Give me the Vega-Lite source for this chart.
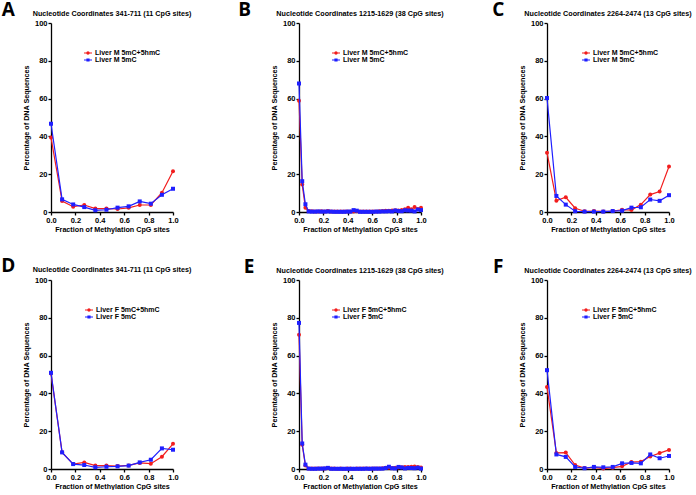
{
  "$schema": "https://vega.github.io/schema/vega-lite/v6.json",
  "padding": {"left": 1, "top": 0, "right": 0, "bottom": 0},
  "background": "white",
  "datasets": {
    "A": [
      {"x": 0, "Liver M 5mC+5hmC": 39.4, "Liver M 5mC": 46.7},
      {"x": 0.0909, "Liver M 5mC+5hmC": 5.8, "Liver M 5mC": 6.7},
      {"x": 0.1818, "Liver M 5mC+5hmC": 2.8, "Liver M 5mC": 4.0},
      {"x": 0.2727, "Liver M 5mC+5hmC": 3.7, "Liver M 5mC": 2.6},
      {"x": 0.3636, "Liver M 5mC+5hmC": 1.8, "Liver M 5mC": 0.9},
      {"x": 0.4545, "Liver M 5mC+5hmC": 1.8, "Liver M 5mC": 1.2},
      {"x": 0.5455, "Liver M 5mC+5hmC": 1.6, "Liver M 5mC": 2.3},
      {"x": 0.6364, "Liver M 5mC+5hmC": 2.2, "Liver M 5mC": 3.0},
      {"x": 0.7273, "Liver M 5mC+5hmC": 3.7, "Liver M 5mC": 5.6},
      {"x": 0.8182, "Liver M 5mC+5hmC": 3.7, "Liver M 5mC": 4.4},
      {"x": 0.9091, "Liver M 5mC+5hmC": 10.2, "Liver M 5mC": 9.1},
      {"x": 1, "Liver M 5mC+5hmC": 21.6, "Liver M 5mC": 12.3}
    ],
    "B": [
      {"x": 0, "Liver M 5mC+5hmC": 58.9, "Liver M 5mC": 68.0},
      {"x": 0.0263, "Liver M 5mC+5hmC": 14.5, "Liver M 5mC": 16.3},
      {"x": 0.0526, "Liver M 5mC+5hmC": 2.3, "Liver M 5mC": 4.1},
      {"x": 0.0789, "Liver M 5mC+5hmC": 0.5, "Liver M 5mC": 0.3},
      {"x": 0.1053, "Liver M 5mC+5hmC": 0.4, "Liver M 5mC": 0.2},
      {"x": 0.1316, "Liver M 5mC+5hmC": 0.3, "Liver M 5mC": 0.2},
      {"x": 0.1579, "Liver M 5mC+5hmC": 0.3, "Liver M 5mC": 0.3},
      {"x": 0.1842, "Liver M 5mC+5hmC": 0.4, "Liver M 5mC": 0.2},
      {"x": 0.2105, "Liver M 5mC+5hmC": 0.3, "Liver M 5mC": 0.2},
      {"x": 0.2368, "Liver M 5mC+5hmC": 0.5, "Liver M 5mC": 0.3},
      {"x": 0.2632, "Liver M 5mC+5hmC": 0.3, "Liver M 5mC": 0.2},
      {"x": 0.2895, "Liver M 5mC+5hmC": 0.2, "Liver M 5mC": 0.1},
      {"x": 0.3158, "Liver M 5mC+5hmC": 0.2, "Liver M 5mC": 0.1},
      {"x": 0.3421, "Liver M 5mC+5hmC": 0.2, "Liver M 5mC": 0.1},
      {"x": 0.3684, "Liver M 5mC+5hmC": 0.2, "Liver M 5mC": 0.1},
      {"x": 0.3947, "Liver M 5mC+5hmC": 0.2, "Liver M 5mC": 0.2},
      {"x": 0.4211, "Liver M 5mC+5hmC": 0.3, "Liver M 5mC": 0.2},
      {"x": 0.4474, "Liver M 5mC+5hmC": 0.2, "Liver M 5mC": 1.0},
      {"x": 0.4737, "Liver M 5mC+5hmC": 0.4, "Liver M 5mC": 0.7},
      {"x": 0.5, "Liver M 5mC+5hmC": 0.2, "Liver M 5mC": 0.1},
      {"x": 0.5263, "Liver M 5mC+5hmC": 0.2, "Liver M 5mC": 0.1},
      {"x": 0.5526, "Liver M 5mC+5hmC": 0.2, "Liver M 5mC": 0.1},
      {"x": 0.5789, "Liver M 5mC+5hmC": 0.2, "Liver M 5mC": 0.1},
      {"x": 0.6053, "Liver M 5mC+5hmC": 0.2, "Liver M 5mC": 0.1},
      {"x": 0.6316, "Liver M 5mC+5hmC": 0.3, "Liver M 5mC": 0.2},
      {"x": 0.6579, "Liver M 5mC+5hmC": 0.4, "Liver M 5mC": 0.2},
      {"x": 0.6842, "Liver M 5mC+5hmC": 0.5, "Liver M 5mC": 0.3},
      {"x": 0.7105, "Liver M 5mC+5hmC": 0.6, "Liver M 5mC": 0.3},
      {"x": 0.7368, "Liver M 5mC+5hmC": 0.6, "Liver M 5mC": 0.4},
      {"x": 0.7632, "Liver M 5mC+5hmC": 0.8, "Liver M 5mC": 0.3},
      {"x": 0.7895, "Liver M 5mC+5hmC": 0.9, "Liver M 5mC": 0.8},
      {"x": 0.8158, "Liver M 5mC+5hmC": 0.8, "Liver M 5mC": 0.5},
      {"x": 0.8421, "Liver M 5mC+5hmC": 1.0, "Liver M 5mC": 0.4},
      {"x": 0.8684, "Liver M 5mC+5hmC": 1.5, "Liver M 5mC": 0.9},
      {"x": 0.8947, "Liver M 5mC+5hmC": 2.3, "Liver M 5mC": 0.8},
      {"x": 0.9211, "Liver M 5mC+5hmC": 1.4, "Liver M 5mC": 0.7},
      {"x": 0.9474, "Liver M 5mC+5hmC": 2.7, "Liver M 5mC": 0.3},
      {"x": 0.9737, "Liver M 5mC+5hmC": 1.6, "Liver M 5mC": 1.3},
      {"x": 1, "Liver M 5mC+5hmC": 2.3, "Liver M 5mC": 1.0}
    ],
    "C": [
      {"x": 0, "Liver M 5mC+5hmC": 31.4, "Liver M 5mC": 60.3},
      {"x": 0.0769, "Liver M 5mC+5hmC": 6.0, "Liver M 5mC": 8.5},
      {"x": 0.1538, "Liver M 5mC+5hmC": 7.8, "Liver M 5mC": 3.9},
      {"x": 0.2308, "Liver M 5mC+5hmC": 2.0, "Liver M 5mC": 0.4},
      {"x": 0.3077, "Liver M 5mC+5hmC": 0.4, "Liver M 5mC": 0.2},
      {"x": 0.3846, "Liver M 5mC+5hmC": 0.5, "Liver M 5mC": 0.2},
      {"x": 0.4615, "Liver M 5mC+5hmC": 0.3, "Liver M 5mC": 0.2},
      {"x": 0.5385, "Liver M 5mC+5hmC": 0.5, "Liver M 5mC": 0.5},
      {"x": 0.6154, "Liver M 5mC+5hmC": 1.2, "Liver M 5mC": 0.7},
      {"x": 0.6923, "Liver M 5mC+5hmC": 1.0, "Liver M 5mC": 2.3},
      {"x": 0.7692, "Liver M 5mC+5hmC": 3.9, "Liver M 5mC": 2.5},
      {"x": 0.8462, "Liver M 5mC+5hmC": 9.2, "Liver M 5mC": 6.6},
      {"x": 0.9231, "Liver M 5mC+5hmC": 10.8, "Liver M 5mC": 5.9},
      {"x": 1, "Liver M 5mC+5hmC": 24.1, "Liver M 5mC": 8.9}
    ],
    "D": [
      {"x": 0, "Liver F 5mC+5hmC": 50.5, "Liver F 5mC": 50.9},
      {"x": 0.0909, "Liver F 5mC+5hmC": 8.8, "Liver F 5mC": 8.8},
      {"x": 0.1818, "Liver F 5mC+5hmC": 2.6, "Liver F 5mC": 2.6},
      {"x": 0.2727, "Liver F 5mC+5hmC": 3.5, "Liver F 5mC": 2.1},
      {"x": 0.3636, "Liver F 5mC+5hmC": 1.8, "Liver F 5mC": 0.9},
      {"x": 0.4545, "Liver F 5mC+5hmC": 1.8, "Liver F 5mC": 1.2},
      {"x": 0.5455, "Liver F 5mC+5hmC": 1.6, "Liver F 5mC": 1.4},
      {"x": 0.6364, "Liver F 5mC+5hmC": 1.9, "Liver F 5mC": 1.8},
      {"x": 0.7273, "Liver F 5mC+5hmC": 3.2, "Liver F 5mC": 3.5},
      {"x": 0.8182, "Liver F 5mC+5hmC": 2.8, "Liver F 5mC": 4.9},
      {"x": 0.9091, "Liver F 5mC+5hmC": 6.5, "Liver F 5mC": 10.9},
      {"x": 1, "Liver F 5mC+5hmC": 13.3, "Liver F 5mC": 10.2}
    ],
    "E": [
      {"x": 0, "Liver F 5mC+5hmC": 71.0, "Liver F 5mC": 77.3},
      {"x": 0.0263, "Liver F 5mC+5hmC": 12.8, "Liver F 5mC": 13.5},
      {"x": 0.0526, "Liver F 5mC+5hmC": 1.8, "Liver F 5mC": 2.3},
      {"x": 0.0789, "Liver F 5mC+5hmC": 0.3, "Liver F 5mC": 0.2},
      {"x": 0.1053, "Liver F 5mC+5hmC": 0.2, "Liver F 5mC": 0.1},
      {"x": 0.1316, "Liver F 5mC+5hmC": 0.2, "Liver F 5mC": 0.1},
      {"x": 0.1579, "Liver F 5mC+5hmC": 0.3, "Liver F 5mC": 0.2},
      {"x": 0.1842, "Liver F 5mC+5hmC": 0.2, "Liver F 5mC": 0.2},
      {"x": 0.2105, "Liver F 5mC+5hmC": 0.3, "Liver F 5mC": 0.3},
      {"x": 0.2368, "Liver F 5mC+5hmC": 0.5, "Liver F 5mC": 0.6},
      {"x": 0.2632, "Liver F 5mC+5hmC": 0.2, "Liver F 5mC": 0.1},
      {"x": 0.2895, "Liver F 5mC+5hmC": 0.2, "Liver F 5mC": 0.1},
      {"x": 0.3158, "Liver F 5mC+5hmC": 0.1, "Liver F 5mC": 0.1},
      {"x": 0.3421, "Liver F 5mC+5hmC": 0.2, "Liver F 5mC": 0.1},
      {"x": 0.3684, "Liver F 5mC+5hmC": 0.1, "Liver F 5mC": 0.1},
      {"x": 0.3947, "Liver F 5mC+5hmC": 0.2, "Liver F 5mC": 0.1},
      {"x": 0.4211, "Liver F 5mC+5hmC": 0.2, "Liver F 5mC": 0.1},
      {"x": 0.4474, "Liver F 5mC+5hmC": 0.1, "Liver F 5mC": 0.1},
      {"x": 0.4737, "Liver F 5mC+5hmC": 0.2, "Liver F 5mC": 0.1},
      {"x": 0.5, "Liver F 5mC+5hmC": 0.2, "Liver F 5mC": 0.1},
      {"x": 0.5263, "Liver F 5mC+5hmC": 0.2, "Liver F 5mC": 0.1},
      {"x": 0.5526, "Liver F 5mC+5hmC": 0.2, "Liver F 5mC": 0.2},
      {"x": 0.5789, "Liver F 5mC+5hmC": 0.2, "Liver F 5mC": 0.1},
      {"x": 0.6053, "Liver F 5mC+5hmC": 0.3, "Liver F 5mC": 0.2},
      {"x": 0.6316, "Liver F 5mC+5hmC": 0.3, "Liver F 5mC": 0.2},
      {"x": 0.6579, "Liver F 5mC+5hmC": 0.3, "Liver F 5mC": 0.2},
      {"x": 0.6842, "Liver F 5mC+5hmC": 0.4, "Liver F 5mC": 0.2},
      {"x": 0.7105, "Liver F 5mC+5hmC": 0.7, "Liver F 5mC": 0.5},
      {"x": 0.7368, "Liver F 5mC+5hmC": 0.6, "Liver F 5mC": 1.2},
      {"x": 0.7632, "Liver F 5mC+5hmC": 0.5, "Liver F 5mC": 0.4},
      {"x": 0.7895, "Liver F 5mC+5hmC": 0.6, "Liver F 5mC": 0.3},
      {"x": 0.8158, "Liver F 5mC+5hmC": 0.8, "Liver F 5mC": 1.1},
      {"x": 0.8421, "Liver F 5mC+5hmC": 0.9, "Liver F 5mC": 0.8},
      {"x": 0.8684, "Liver F 5mC+5hmC": 1.1, "Liver F 5mC": 0.3},
      {"x": 0.8947, "Liver F 5mC+5hmC": 1.0, "Liver F 5mC": 0.6},
      {"x": 0.9211, "Liver F 5mC+5hmC": 1.2, "Liver F 5mC": 0.5},
      {"x": 0.9474, "Liver F 5mC+5hmC": 1.3, "Liver F 5mC": 0.4},
      {"x": 0.9737, "Liver F 5mC+5hmC": 1.1, "Liver F 5mC": 0.7},
      {"x": 1, "Liver F 5mC+5hmC": 0.8, "Liver F 5mC": 0.2}
    ],
    "F": [
      {"x": 0, "Liver F 5mC+5hmC": 43.4, "Liver F 5mC": 52.3},
      {"x": 0.0769, "Liver F 5mC+5hmC": 8.5, "Liver F 5mC": 7.7},
      {"x": 0.1538, "Liver F 5mC+5hmC": 8.7, "Liver F 5mC": 6.4},
      {"x": 0.2308, "Liver F 5mC+5hmC": 2.1, "Liver F 5mC": 1.1},
      {"x": 0.3077, "Liver F 5mC+5hmC": 0.5, "Liver F 5mC": 0.4},
      {"x": 0.3846, "Liver F 5mC+5hmC": 0.9, "Liver F 5mC": 1.1},
      {"x": 0.4615, "Liver F 5mC+5hmC": 0.2, "Liver F 5mC": 0.9},
      {"x": 0.5385, "Liver F 5mC+5hmC": 0.7, "Liver F 5mC": 1.1},
      {"x": 0.6154, "Liver F 5mC+5hmC": 1.4, "Liver F 5mC": 3.0},
      {"x": 0.6923, "Liver F 5mC+5hmC": 3.7, "Liver F 5mC": 3.2},
      {"x": 0.7692, "Liver F 5mC+5hmC": 3.9, "Liver F 5mC": 3.0},
      {"x": 0.8462, "Liver F 5mC+5hmC": 6.6, "Liver F 5mC": 7.7},
      {"x": 0.9231, "Liver F 5mC+5hmC": 8.4, "Liver F 5mC": 5.7},
      {"x": 1, "Liver F 5mC+5hmC": 10.1, "Liver F 5mC": 6.9}
    ]
  },
  "columns": 3,
  "spacing": {"row": 68, "column": 126},
  "bounds": "flush",
  "resolve": {"scale": {"color": "independent", "shape": "independent"}, "legend": {"color": "independent", "shape": "independent"}},
  "concat": [
    {
      "width": 122, "height": 189,
      "title": {"text": "Nucleotide Coordinates 341-711 (11 CpG sites)"},
      "layer": [
        {"data": {"name": "A"}, "transform": [{"fold": ["Liver M 5mC+5hmC", "Liver M 5mC"], "as": ["s", "y"]}, {"filter": "datum.s === 'Liver M 5mC+5hmC'"}],
         "mark": {"type": "line", "strokeWidth": 1.2, "color": "#f21d1d"},
         "encoding": {
          "x": {"field": "x", "type": "quantitative", "scale": {"domain": [0, 1], "nice": false}, "title": "Fraction of Methylation CpG sites"},
          "y": {"field": "y", "type": "quantitative", "scale": {"domain": [0, 100], "nice": false}, "title": "Percentage of DNA Sequences"}}},
        {"data": {"name": "A"}, "transform": [{"fold": ["Liver M 5mC+5hmC", "Liver M 5mC"], "as": ["s", "y"]}, {"filter": "datum.s === 'Liver M 5mC+5hmC'"}],
         "mark": {"type": "point", "shape": "circle", "filled": true, "opacity": 1, "size": 16, "color": "#f21d1d"},
         "encoding": {"x": {"field": "x", "type": "quantitative"}, "y": {"field": "y", "type": "quantitative"}}},
        {"data": {"name": "A"}, "transform": [{"fold": ["Liver M 5mC+5hmC", "Liver M 5mC"], "as": ["s", "y"]}, {"filter": "datum.s === 'Liver M 5mC'"}],
         "mark": {"type": "line", "strokeWidth": 1.2, "color": "#1f1fff"},
         "encoding": {"x": {"field": "x", "type": "quantitative"}, "y": {"field": "y", "type": "quantitative"}}},
        {"data": {"name": "A"}, "transform": [{"fold": ["Liver M 5mC+5hmC", "Liver M 5mC"], "as": ["s", "y"]}, {"filter": "datum.s === 'Liver M 5mC'"}],
         "mark": {"type": "point", "shape": "square", "filled": true, "opacity": 1, "size": 16, "color": "#1f1fff"},
         "encoding": {"x": {"field": "x", "type": "quantitative"}, "y": {"field": "y", "type": "quantitative"}}},
        {"data": {"name": "A"}, "transform": [{"fold": ["Liver M 5mC+5hmC", "Liver M 5mC"], "as": ["s", "y"]}],
         "mark": {"type": "point", "filled": true, "opacity": 0},
         "encoding": {"x": {"field": "x", "type": "quantitative"}, "y": {"field": "y", "type": "quantitative"},
          "color": {"field": "s", "type": "nominal", "scale": {"domain": ["Liver M 5mC+5hmC", "Liver M 5mC"], "range": ["#f21d1d", "#1f1fff"]},
            "legend": {"orient": "none", "legendX": 33, "legendY": 26, "title": null, "padding": 0, "symbolSize": 64, "symbolStrokeWidth": 0, "symbolOpacity": 1, "rowPadding": 0, "labelOffset": 3}},
          "shape": {"field": "s", "type": "nominal", "scale": {"domain": ["Liver M 5mC+5hmC", "Liver M 5mC"], "range": ["M-1,-0.15H1V0.15H-1ZM-0.42,0A0.42,0.42,0,1,1,0.42,0A0.42,0.42,0,1,1,-0.42,0Z", "M-1,-0.15H1V0.15H-1ZM-0.4,-0.4H0.4V0.4H-0.4Z"]},
            "legend": {"orient": "none", "legendX": 33, "legendY": 26, "title": null, "padding": 0, "symbolSize": 64, "symbolStrokeWidth": 0, "symbolOpacity": 1, "rowPadding": 0, "labelOffset": 3}}}},
        {"data": {"values": [{"label": "A"}]}, "mark": {"type": "text", "font": "Open Sans", "fontWeight": "bold", "fontSize": 19, "baseline": "middle", "align": "center", "color": "black"},
          "encoding": {"x": {"datum": -0.35}, "y": {"datum": 107.0}, "text": {"field": "label"}}}
      ]
    },
    {
      "width": 122, "height": 189,
      "title": {"text": "Nucleotide Coordinates 1215-1629 (38 CpG sites)"},
      "layer": [
        {"data": {"name": "B"}, "transform": [{"fold": ["Liver M 5mC+5hmC", "Liver M 5mC"], "as": ["s", "y"]}, {"filter": "datum.s === 'Liver M 5mC+5hmC'"}],
         "mark": {"type": "line", "strokeWidth": 1.2, "color": "#f21d1d"},
         "encoding": {
          "x": {"field": "x", "type": "quantitative", "scale": {"domain": [0, 1], "nice": false}, "title": "Fraction of Methylation CpG sites"},
          "y": {"field": "y", "type": "quantitative", "scale": {"domain": [0, 100], "nice": false}, "title": "Percentage of DNA Sequences"}}},
        {"data": {"name": "B"}, "transform": [{"fold": ["Liver M 5mC+5hmC", "Liver M 5mC"], "as": ["s", "y"]}, {"filter": "datum.s === 'Liver M 5mC+5hmC'"}],
         "mark": {"type": "point", "shape": "circle", "filled": true, "opacity": 1, "size": 16, "color": "#f21d1d"},
         "encoding": {"x": {"field": "x", "type": "quantitative"}, "y": {"field": "y", "type": "quantitative"}}},
        {"data": {"name": "B"}, "transform": [{"fold": ["Liver M 5mC+5hmC", "Liver M 5mC"], "as": ["s", "y"]}, {"filter": "datum.s === 'Liver M 5mC'"}],
         "mark": {"type": "line", "strokeWidth": 1.2, "color": "#1f1fff"},
         "encoding": {"x": {"field": "x", "type": "quantitative"}, "y": {"field": "y", "type": "quantitative"}}},
        {"data": {"name": "B"}, "transform": [{"fold": ["Liver M 5mC+5hmC", "Liver M 5mC"], "as": ["s", "y"]}, {"filter": "datum.s === 'Liver M 5mC'"}],
         "mark": {"type": "point", "shape": "square", "filled": true, "opacity": 1, "size": 16, "color": "#1f1fff"},
         "encoding": {"x": {"field": "x", "type": "quantitative"}, "y": {"field": "y", "type": "quantitative"}}},
        {"data": {"name": "B"}, "transform": [{"fold": ["Liver M 5mC+5hmC", "Liver M 5mC"], "as": ["s", "y"]}],
         "mark": {"type": "point", "filled": true, "opacity": 0},
         "encoding": {"x": {"field": "x", "type": "quantitative"}, "y": {"field": "y", "type": "quantitative"},
          "color": {"field": "s", "type": "nominal", "scale": {"domain": ["Liver M 5mC+5hmC", "Liver M 5mC"], "range": ["#f21d1d", "#1f1fff"]},
            "legend": {"orient": "none", "legendX": 33, "legendY": 26, "title": null, "padding": 0, "symbolSize": 64, "symbolStrokeWidth": 0, "symbolOpacity": 1, "rowPadding": 0, "labelOffset": 3}},
          "shape": {"field": "s", "type": "nominal", "scale": {"domain": ["Liver M 5mC+5hmC", "Liver M 5mC"], "range": ["M-1,-0.15H1V0.15H-1ZM-0.42,0A0.42,0.42,0,1,1,0.42,0A0.42,0.42,0,1,1,-0.42,0Z", "M-1,-0.15H1V0.15H-1ZM-0.4,-0.4H0.4V0.4H-0.4Z"]},
            "legend": {"orient": "none", "legendX": 33, "legendY": 26, "title": null, "padding": 0, "symbolSize": 64, "symbolStrokeWidth": 0, "symbolOpacity": 1, "rowPadding": 0, "labelOffset": 3}}}},
        {"data": {"values": [{"label": "B"}]}, "mark": {"type": "text", "font": "Open Sans", "fontWeight": "bold", "fontSize": 19, "baseline": "middle", "align": "center", "color": "black"},
          "encoding": {"x": {"datum": -0.445}, "y": {"datum": 107.0}, "text": {"field": "label"}}}
      ]
    },
    {
      "width": 122, "height": 189,
      "title": {"text": "Nucleotide Coordinates 2264-2474 (13 CpG sites)"},
      "layer": [
        {"data": {"name": "C"}, "transform": [{"fold": ["Liver M 5mC+5hmC", "Liver M 5mC"], "as": ["s", "y"]}, {"filter": "datum.s === 'Liver M 5mC+5hmC'"}],
         "mark": {"type": "line", "strokeWidth": 1.2, "color": "#f21d1d"},
         "encoding": {
          "x": {"field": "x", "type": "quantitative", "scale": {"domain": [0, 1], "nice": false}, "title": "Fraction of Methylation CpG sites"},
          "y": {"field": "y", "type": "quantitative", "scale": {"domain": [0, 100], "nice": false}, "title": "Percentage of DNA Sequences"}}},
        {"data": {"name": "C"}, "transform": [{"fold": ["Liver M 5mC+5hmC", "Liver M 5mC"], "as": ["s", "y"]}, {"filter": "datum.s === 'Liver M 5mC+5hmC'"}],
         "mark": {"type": "point", "shape": "circle", "filled": true, "opacity": 1, "size": 16, "color": "#f21d1d"},
         "encoding": {"x": {"field": "x", "type": "quantitative"}, "y": {"field": "y", "type": "quantitative"}}},
        {"data": {"name": "C"}, "transform": [{"fold": ["Liver M 5mC+5hmC", "Liver M 5mC"], "as": ["s", "y"]}, {"filter": "datum.s === 'Liver M 5mC'"}],
         "mark": {"type": "line", "strokeWidth": 1.2, "color": "#1f1fff"},
         "encoding": {"x": {"field": "x", "type": "quantitative"}, "y": {"field": "y", "type": "quantitative"}}},
        {"data": {"name": "C"}, "transform": [{"fold": ["Liver M 5mC+5hmC", "Liver M 5mC"], "as": ["s", "y"]}, {"filter": "datum.s === 'Liver M 5mC'"}],
         "mark": {"type": "point", "shape": "square", "filled": true, "opacity": 1, "size": 16, "color": "#1f1fff"},
         "encoding": {"x": {"field": "x", "type": "quantitative"}, "y": {"field": "y", "type": "quantitative"}}},
        {"data": {"name": "C"}, "transform": [{"fold": ["Liver M 5mC+5hmC", "Liver M 5mC"], "as": ["s", "y"]}],
         "mark": {"type": "point", "filled": true, "opacity": 0},
         "encoding": {"x": {"field": "x", "type": "quantitative"}, "y": {"field": "y", "type": "quantitative"},
          "color": {"field": "s", "type": "nominal", "scale": {"domain": ["Liver M 5mC+5hmC", "Liver M 5mC"], "range": ["#f21d1d", "#1f1fff"]},
            "legend": {"orient": "none", "legendX": 35, "legendY": 26, "title": null, "padding": 0, "symbolSize": 64, "symbolStrokeWidth": 0, "symbolOpacity": 1, "rowPadding": 0, "labelOffset": 3}},
          "shape": {"field": "s", "type": "nominal", "scale": {"domain": ["Liver M 5mC+5hmC", "Liver M 5mC"], "range": ["M-1,-0.15H1V0.15H-1ZM-0.42,0A0.42,0.42,0,1,1,0.42,0A0.42,0.42,0,1,1,-0.42,0Z", "M-1,-0.15H1V0.15H-1ZM-0.4,-0.4H0.4V0.4H-0.4Z"]},
            "legend": {"orient": "none", "legendX": 35, "legendY": 26, "title": null, "padding": 0, "symbolSize": 64, "symbolStrokeWidth": 0, "symbolOpacity": 1, "rowPadding": 0, "labelOffset": 3}}}},
        {"data": {"values": [{"label": "C"}]}, "mark": {"type": "text", "font": "Open Sans", "fontWeight": "bold", "fontSize": 19, "baseline": "middle", "align": "center", "color": "black"},
          "encoding": {"x": {"datum": -0.4}, "y": {"datum": 107.0}, "text": {"field": "label"}}}
      ]
    },
    {
      "width": 122, "height": 189,
      "title": {"text": "Nucleotide Coordinates 341-711 (11 CpG sites)"},
      "layer": [
        {"data": {"name": "D"}, "transform": [{"fold": ["Liver F 5mC+5hmC", "Liver F 5mC"], "as": ["s", "y"]}, {"filter": "datum.s === 'Liver F 5mC+5hmC'"}],
         "mark": {"type": "line", "strokeWidth": 1.2, "color": "#f21d1d"},
         "encoding": {
          "x": {"field": "x", "type": "quantitative", "scale": {"domain": [0, 1], "nice": false}, "title": "Fraction of Methylation CpG sites"},
          "y": {"field": "y", "type": "quantitative", "scale": {"domain": [0, 100], "nice": false}, "title": "Percentage of DNA Sequences"}}},
        {"data": {"name": "D"}, "transform": [{"fold": ["Liver F 5mC+5hmC", "Liver F 5mC"], "as": ["s", "y"]}, {"filter": "datum.s === 'Liver F 5mC+5hmC'"}],
         "mark": {"type": "point", "shape": "circle", "filled": true, "opacity": 1, "size": 16, "color": "#f21d1d"},
         "encoding": {"x": {"field": "x", "type": "quantitative"}, "y": {"field": "y", "type": "quantitative"}}},
        {"data": {"name": "D"}, "transform": [{"fold": ["Liver F 5mC+5hmC", "Liver F 5mC"], "as": ["s", "y"]}, {"filter": "datum.s === 'Liver F 5mC'"}],
         "mark": {"type": "line", "strokeWidth": 1.2, "color": "#1f1fff"},
         "encoding": {"x": {"field": "x", "type": "quantitative"}, "y": {"field": "y", "type": "quantitative"}}},
        {"data": {"name": "D"}, "transform": [{"fold": ["Liver F 5mC+5hmC", "Liver F 5mC"], "as": ["s", "y"]}, {"filter": "datum.s === 'Liver F 5mC'"}],
         "mark": {"type": "point", "shape": "square", "filled": true, "opacity": 1, "size": 16, "color": "#1f1fff"},
         "encoding": {"x": {"field": "x", "type": "quantitative"}, "y": {"field": "y", "type": "quantitative"}}},
        {"data": {"name": "D"}, "transform": [{"fold": ["Liver F 5mC+5hmC", "Liver F 5mC"], "as": ["s", "y"]}],
         "mark": {"type": "point", "filled": true, "opacity": 0},
         "encoding": {"x": {"field": "x", "type": "quantitative"}, "y": {"field": "y", "type": "quantitative"},
          "color": {"field": "s", "type": "nominal", "scale": {"domain": ["Liver F 5mC+5hmC", "Liver F 5mC"], "range": ["#f21d1d", "#1f1fff"]},
            "legend": {"orient": "none", "legendX": 34, "legendY": 26, "title": null, "padding": 0, "symbolSize": 64, "symbolStrokeWidth": 0, "symbolOpacity": 1, "rowPadding": 0, "labelOffset": 3}},
          "shape": {"field": "s", "type": "nominal", "scale": {"domain": ["Liver F 5mC+5hmC", "Liver F 5mC"], "range": ["M-1,-0.15H1V0.15H-1ZM-0.42,0A0.42,0.42,0,1,1,0.42,0A0.42,0.42,0,1,1,-0.42,0Z", "M-1,-0.15H1V0.15H-1ZM-0.4,-0.4H0.4V0.4H-0.4Z"]},
            "legend": {"orient": "none", "legendX": 34, "legendY": 26, "title": null, "padding": 0, "symbolSize": 64, "symbolStrokeWidth": 0, "symbolOpacity": 1, "rowPadding": 0, "labelOffset": 3}}}},
        {"data": {"values": [{"label": "D"}]}, "mark": {"type": "text", "font": "Open Sans", "fontWeight": "bold", "fontSize": 19, "baseline": "middle", "align": "center", "color": "black"},
          "encoding": {"x": {"datum": -0.35}, "y": {"datum": 107.4}, "text": {"field": "label"}}}
      ]
    },
    {
      "width": 122, "height": 189,
      "title": {"text": "Nucleotide Coordinates 1215-1629 (38 CpG sites)"},
      "layer": [
        {"data": {"name": "E"}, "transform": [{"fold": ["Liver F 5mC+5hmC", "Liver F 5mC"], "as": ["s", "y"]}, {"filter": "datum.s === 'Liver F 5mC+5hmC'"}],
         "mark": {"type": "line", "strokeWidth": 1.2, "color": "#f21d1d"},
         "encoding": {
          "x": {"field": "x", "type": "quantitative", "scale": {"domain": [0, 1], "nice": false}, "title": "Fraction of Methylation CpG sites"},
          "y": {"field": "y", "type": "quantitative", "scale": {"domain": [0, 100], "nice": false}, "title": "Percentage of DNA Sequences"}}},
        {"data": {"name": "E"}, "transform": [{"fold": ["Liver F 5mC+5hmC", "Liver F 5mC"], "as": ["s", "y"]}, {"filter": "datum.s === 'Liver F 5mC+5hmC'"}],
         "mark": {"type": "point", "shape": "circle", "filled": true, "opacity": 1, "size": 16, "color": "#f21d1d"},
         "encoding": {"x": {"field": "x", "type": "quantitative"}, "y": {"field": "y", "type": "quantitative"}}},
        {"data": {"name": "E"}, "transform": [{"fold": ["Liver F 5mC+5hmC", "Liver F 5mC"], "as": ["s", "y"]}, {"filter": "datum.s === 'Liver F 5mC'"}],
         "mark": {"type": "line", "strokeWidth": 1.2, "color": "#1f1fff"},
         "encoding": {"x": {"field": "x", "type": "quantitative"}, "y": {"field": "y", "type": "quantitative"}}},
        {"data": {"name": "E"}, "transform": [{"fold": ["Liver F 5mC+5hmC", "Liver F 5mC"], "as": ["s", "y"]}, {"filter": "datum.s === 'Liver F 5mC'"}],
         "mark": {"type": "point", "shape": "square", "filled": true, "opacity": 1, "size": 16, "color": "#1f1fff"},
         "encoding": {"x": {"field": "x", "type": "quantitative"}, "y": {"field": "y", "type": "quantitative"}}},
        {"data": {"name": "E"}, "transform": [{"fold": ["Liver F 5mC+5hmC", "Liver F 5mC"], "as": ["s", "y"]}],
         "mark": {"type": "point", "filled": true, "opacity": 0},
         "encoding": {"x": {"field": "x", "type": "quantitative"}, "y": {"field": "y", "type": "quantitative"},
          "color": {"field": "s", "type": "nominal", "scale": {"domain": ["Liver F 5mC+5hmC", "Liver F 5mC"], "range": ["#f21d1d", "#1f1fff"]},
            "legend": {"orient": "none", "legendX": 33, "legendY": 26, "title": null, "padding": 0, "symbolSize": 64, "symbolStrokeWidth": 0, "symbolOpacity": 1, "rowPadding": 0, "labelOffset": 3}},
          "shape": {"field": "s", "type": "nominal", "scale": {"domain": ["Liver F 5mC+5hmC", "Liver F 5mC"], "range": ["M-1,-0.15H1V0.15H-1ZM-0.42,0A0.42,0.42,0,1,1,0.42,0A0.42,0.42,0,1,1,-0.42,0Z", "M-1,-0.15H1V0.15H-1ZM-0.4,-0.4H0.4V0.4H-0.4Z"]},
            "legend": {"orient": "none", "legendX": 33, "legendY": 26, "title": null, "padding": 0, "symbolSize": 64, "symbolStrokeWidth": 0, "symbolOpacity": 1, "rowPadding": 0, "labelOffset": 3}}}},
        {"data": {"values": [{"label": "E"}]}, "mark": {"type": "text", "font": "Open Sans", "fontWeight": "bold", "fontSize": 19, "baseline": "middle", "align": "center", "color": "black"},
          "encoding": {"x": {"datum": -0.41}, "y": {"datum": 106.8}, "text": {"field": "label"}}}
      ]
    },
    {
      "width": 122, "height": 189,
      "title": {"text": "Nucleotide Coordinates 2264-2474 (13 CpG sites)"},
      "layer": [
        {"data": {"name": "F"}, "transform": [{"fold": ["Liver F 5mC+5hmC", "Liver F 5mC"], "as": ["s", "y"]}, {"filter": "datum.s === 'Liver F 5mC+5hmC'"}],
         "mark": {"type": "line", "strokeWidth": 1.2, "color": "#f21d1d"},
         "encoding": {
          "x": {"field": "x", "type": "quantitative", "scale": {"domain": [0, 1], "nice": false}, "title": "Fraction of Methylation CpG sites"},
          "y": {"field": "y", "type": "quantitative", "scale": {"domain": [0, 100], "nice": false}, "title": "Percentage of DNA Sequences"}}},
        {"data": {"name": "F"}, "transform": [{"fold": ["Liver F 5mC+5hmC", "Liver F 5mC"], "as": ["s", "y"]}, {"filter": "datum.s === 'Liver F 5mC+5hmC'"}],
         "mark": {"type": "point", "shape": "circle", "filled": true, "opacity": 1, "size": 16, "color": "#f21d1d"},
         "encoding": {"x": {"field": "x", "type": "quantitative"}, "y": {"field": "y", "type": "quantitative"}}},
        {"data": {"name": "F"}, "transform": [{"fold": ["Liver F 5mC+5hmC", "Liver F 5mC"], "as": ["s", "y"]}, {"filter": "datum.s === 'Liver F 5mC'"}],
         "mark": {"type": "line", "strokeWidth": 1.2, "color": "#1f1fff"},
         "encoding": {"x": {"field": "x", "type": "quantitative"}, "y": {"field": "y", "type": "quantitative"}}},
        {"data": {"name": "F"}, "transform": [{"fold": ["Liver F 5mC+5hmC", "Liver F 5mC"], "as": ["s", "y"]}, {"filter": "datum.s === 'Liver F 5mC'"}],
         "mark": {"type": "point", "shape": "square", "filled": true, "opacity": 1, "size": 16, "color": "#1f1fff"},
         "encoding": {"x": {"field": "x", "type": "quantitative"}, "y": {"field": "y", "type": "quantitative"}}},
        {"data": {"name": "F"}, "transform": [{"fold": ["Liver F 5mC+5hmC", "Liver F 5mC"], "as": ["s", "y"]}],
         "mark": {"type": "point", "filled": true, "opacity": 0},
         "encoding": {"x": {"field": "x", "type": "quantitative"}, "y": {"field": "y", "type": "quantitative"},
          "color": {"field": "s", "type": "nominal", "scale": {"domain": ["Liver F 5mC+5hmC", "Liver F 5mC"], "range": ["#f21d1d", "#1f1fff"]},
            "legend": {"orient": "none", "legendX": 35, "legendY": 26, "title": null, "padding": 0, "symbolSize": 64, "symbolStrokeWidth": 0, "symbolOpacity": 1, "rowPadding": 0, "labelOffset": 3}},
          "shape": {"field": "s", "type": "nominal", "scale": {"domain": ["Liver F 5mC+5hmC", "Liver F 5mC"], "range": ["M-1,-0.15H1V0.15H-1ZM-0.42,0A0.42,0.42,0,1,1,0.42,0A0.42,0.42,0,1,1,-0.42,0Z", "M-1,-0.15H1V0.15H-1ZM-0.4,-0.4H0.4V0.4H-0.4Z"]},
            "legend": {"orient": "none", "legendX": 35, "legendY": 26, "title": null, "padding": 0, "symbolSize": 64, "symbolStrokeWidth": 0, "symbolOpacity": 1, "rowPadding": 0, "labelOffset": 3}}}},
        {"data": {"values": [{"label": "F"}]}, "mark": {"type": "text", "font": "Open Sans", "fontWeight": "bold", "fontSize": 19, "baseline": "middle", "align": "center", "color": "black"},
          "encoding": {"x": {"datum": -0.4}, "y": {"datum": 106.9}, "text": {"field": "label"}}}
      ]
    }
  ],
  "config": {
    "view": {"stroke": null},
    "font": "Liberation Sans",
    "title": {"font": "Liberation Sans", "fontSize": 7.2, "fontWeight": "bold", "color": "black", "anchor": "middle", "frame": "group", "offset": -16.5},
    "axis": {"grid": false, "domainColor": "black", "domainWidth": 1.3, "tickColor": "black", "tickWidth": 1.3, "tickSize": 3,
      "labelFont": "Liberation Sans", "labelFontWeight": "bold", "labelFontSize": 7.5, "labelColor": "black", "labelPadding": 1,
      "titleFont": "Liberation Sans", "titleFontWeight": "bold", "titleFontSize": 7.2, "titleColor": "black"},
    "axisX": {"values": [0, 0.2, 0.4, 0.6, 0.8, 1], "format": ".1f", "titlePadding": 2, "labelFlush": false},
    "axisY": {"values": [0, 20, 40, 60, 80, 100], "titlePadding": 4},
    "legend": {"labelFont": "Liberation Sans", "labelFontWeight": "bold", "labelFontSize": 7, "labelColor": "black"}
  }
}
